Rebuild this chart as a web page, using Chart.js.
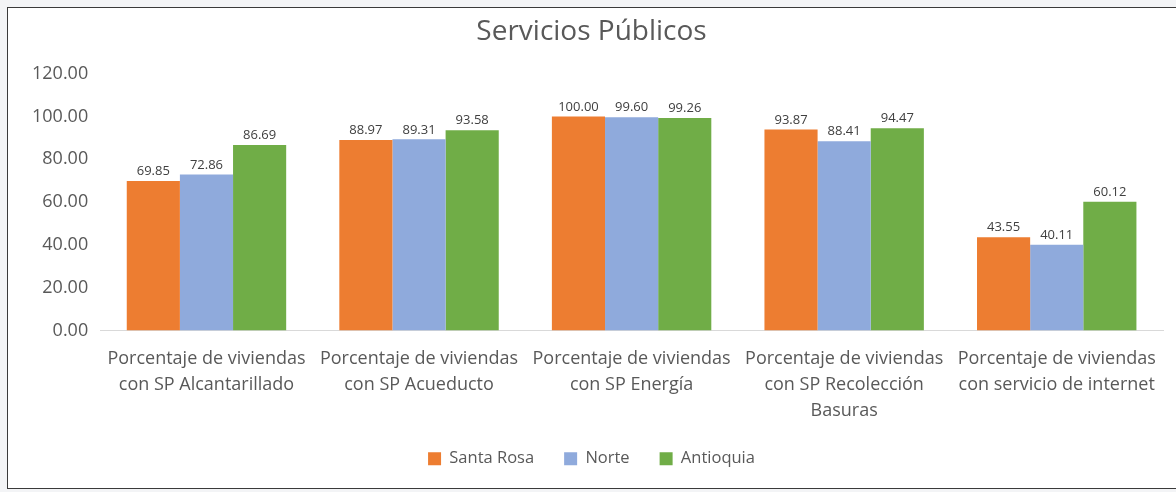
<!DOCTYPE html>
<html>
<head>
<meta charset="utf-8">
<script src="https://cdn.jsdelivr.net/npm/chart.js@4/dist/chart.umd.min.js"></script>
<style>
  html, body { margin: 0; padding: 0; background: #f3f4f6; }
  #box {
    position: absolute; left: 7px; top: 7px; width: 1169px; height: 482px;
    background: #fff; border: 1px solid #3a3a3a; border-right: none; box-sizing: border-box;
  }
  #box canvas { display: block; }
</style>
</head>
<body>
<div id="box"><canvas id="chart"></canvas></div>
<script>
const categories = [
  ["Porcentaje de viviendas", "con SP Alcantarillado"],
  ["Porcentaje de viviendas", "con SP Acueducto"],
  ["Porcentaje de viviendas", "con SP Energía"],
  ["Porcentaje de viviendas", "con SP Recolección", "Basuras"],
  ["Porcentaje de viviendas", "con servicio de internet"]
];
const santaRosa = [69.85, 88.97, 100.00, 93.87, 43.55];
const norte = [72.86, 89.31, 99.60, 88.41, 40.11];
const antioquia = [86.69, 93.58, 99.26, 94.47, 60.12];

const textColor = "#595959";
const fontFamily = "'Open Sans', 'Liberation Sans', sans-serif";

// draws the value above each bar, like the Excel data labels
const barValues = {
  id: "barValues",
  afterDatasetsDraw(chart) {
    const ctx = chart.ctx;
    ctx.save();
    ctx.font = "13px " + fontFamily;
    ctx.fillStyle = "#404040";
    ctx.textAlign = "center";
    ctx.textBaseline = "bottom";
    chart.data.datasets.forEach((ds, i) => {
      chart.getDatasetMeta(i).data.forEach((bar, j) => {
        ctx.fillText(ds.data[j].toFixed(2), bar.x, bar.y - 3);
      });
    });
    ctx.restore();
  }
};

new Chart(document.getElementById("chart"), {
  type: "bar",
  data: {
    labels: categories,
    datasets: [
      { label: "Santa Rosa", data: santaRosa, backgroundColor: "#ED7D31" },
      { label: "Norte", data: norte, backgroundColor: "#8FAADC" },
      { label: "Antioquia", data: antioquia, backgroundColor: "#70AD47" }
    ]
  },
  options: {
    responsive: true,
    maintainAspectRatio: false,
    animation: false,
    categoryPercentage: 0.75,
    barPercentage: 1.0,
    layout: { padding: { left: 12, right: 13, top: 0, bottom: 11 } },
    scales: {
      y: {
        min: 0,
        max: 120,
        ticks: {
          stepSize: 20,
          padding: 12,
          color: textColor,
          font: { size: 18, family: fontFamily },
          callback: (v) => v.toFixed(2)
        },
        grid: { display: false, drawTicks: false },
        border: { display: false }
      },
      x: {
        ticks: {
          padding: 8,
          color: textColor,
          font: { size: 18, family: fontFamily, lineHeight: 1.42 },
          maxRotation: 0,
          autoSkip: false
        },
        grid: { display: false },
        border: { color: "#d9d9d9", width: 1 },
        afterFit: (scale) => { scale.height = 90; }
      }
    },
    plugins: {
      title: {
        display: true,
        text: "Servicios Públicos",
        color: textColor,
        font: { size: 28, family: fontFamily, weight: "normal" },
        padding: { top: 7, bottom: 25 }
      },
      legend: {
        position: "bottom",
        labels: {
          color: textColor,
          font: { size: 16.5, family: fontFamily },
          boxWidth: 13,
          boxHeight: 13,
          padding: 30
        }
      },
      tooltip: { enabled: false }
    }
  },
  plugins: [barValues]
});
</script>
</body>
</html>
